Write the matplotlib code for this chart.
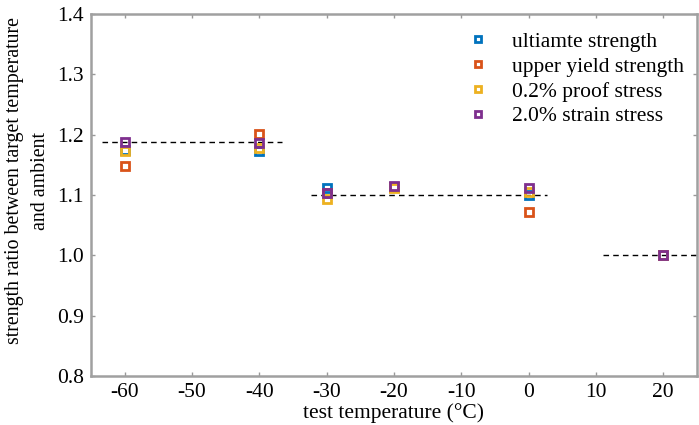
import numpy as np
import matplotlib
matplotlib.use('Agg')
import matplotlib.pyplot as plt

plt.rcParams['font.family'] = ['Liberation Serif', 'DejaVu Serif']
plt.rcParams['axes.unicode_minus'] = False

# 数据
temps = [-60, -40, -30, -20, 0, 20]
ultimate = [1.175, 1.173, 1.111, 1.113, 1.100, 1.0]
upper_yield = [1.148, 1.201, 1.104, 1.113, 1.072, 1.0]
proof_02 = [1.172, 1.177, 1.094, 1.112, 1.105, 1.0]
strain_20 = [1.187, 1.186, 1.104, 1.114, 1.111, 1.0]

labels = ['ultiamte strength', 'upper yield strength', '0.2% proof stress', '2.0% strain stress']
colors = ['#0072BD', '#D95319', '#EDB120', '#7E2F8E']

# 平均值虚线 (x 起点, x 终点, y)
avg_x = [(-63.3, -36.6), (-32.3, 2.7), (11.0, 25.0)]
avg_y = [1.188, 1.100, 1.0]

fig = plt.figure(figsize=(6.99, 4.25), dpi=100)
ax = fig.add_axes([0.130, 0.1153, 0.867, 0.852])

for (x0, x1), y in zip(avg_x, avg_y):
    ax.plot([x0, x1], [y, y], '--', color='black', lw=1.0, dashes=(4, 3))

for vals, lab, c in zip([ultimate, upper_yield, proof_02, strain_20], labels, colors):
    ax.plot(temps, vals, 's', mfc='none', mec=c, mew=2, ms=6, label=lab, ls='none')

ax.set_xlim(-65, 25)
ax.set_ylim(0.8, 1.4)
ax.set_xticks(np.arange(-60, 21, 10))
ax.set_yticks(np.arange(0.8, 1.41, 0.1))
ax.set_yticklabels([f'{v:.1f}' for v in np.arange(0.8, 1.41, 0.1)])
ax.tick_params(direction='in', length=3, width=1, color='#999999', labelsize=15.5,
               top=True, right=True, pad=5)

for s in ax.spines.values():
    s.set_color('#a0a0a0')
    s.set_linewidth(1.8)

ax.set_xlabel('test temperature (°C)', fontsize=15.5, labelpad=1)
ax.set_ylabel('strength ratio between target temperature\nand ambient', fontsize=14.3,
              linespacing=1.45, multialignment='center')
ax.yaxis.set_label_coords(-0.068, 0.539)

ax.legend(loc='upper right', frameon=False, fontsize=15.5, handletextpad=1.2,
          labelspacing=0.22, markerscale=0.8, handlelength=0.8,
          bbox_to_anchor=(1.0, 0.986), borderaxespad=0.2)

fig.savefig('out.png', dpi=100)
